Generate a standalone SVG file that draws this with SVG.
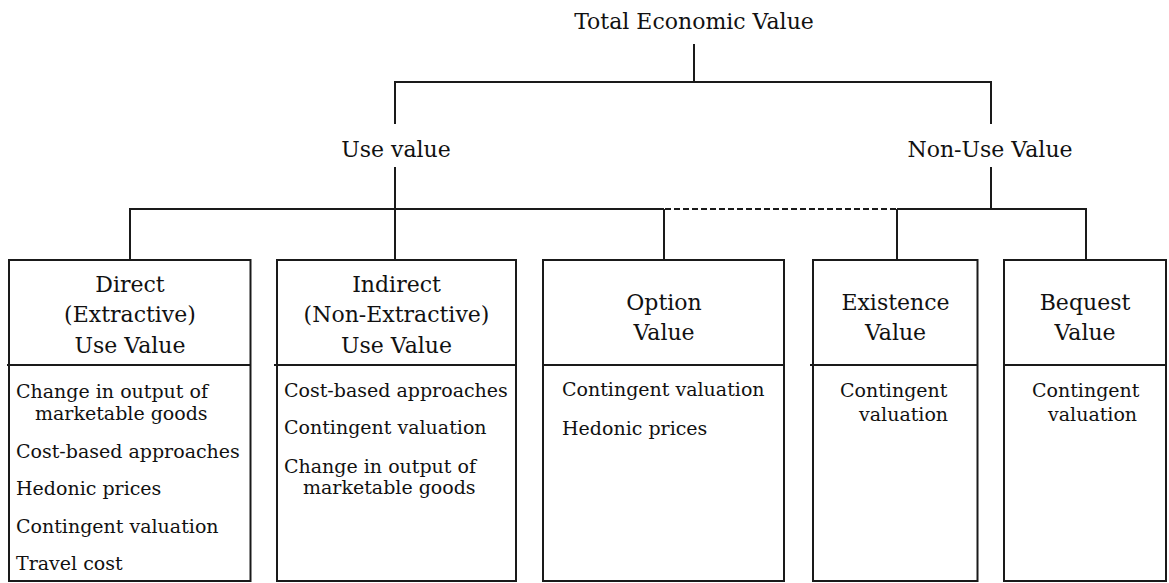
<svg xmlns="http://www.w3.org/2000/svg" width="1169" height="583" viewBox="0 0 1169 583">
<style>
.bg{fill:#ffffff}
.ln{stroke:#1a1a1a;stroke-width:2;fill:none}
.dash{stroke:#1a1a1a;stroke-width:2;fill:none;stroke-dasharray:6 3}
.box{stroke:#1a1a1a;stroke-width:2;fill:#ffffff}
.h{font-family:"DejaVu Serif","Liberation Serif",serif;font-size:22px;fill:#111111;text-anchor:middle}
.b{font-family:"DejaVu Serif","Liberation Serif",serif;font-size:19px;fill:#111111}
</style>
<rect class="bg" x="0" y="0" width="1169" height="583"/>
<g id="connectors">
<line class="ln" x1="694" y1="44" x2="694" y2="82"/>
<line class="ln" x1="394" y1="82" x2="992" y2="82"/>
<line class="ln" x1="395" y1="82" x2="395" y2="124"/>
<line class="ln" x1="991" y1="82" x2="991" y2="124"/>
<line class="ln" x1="395" y1="167" x2="395" y2="260"/>
<line class="ln" x1="991" y1="167" x2="991" y2="209"/>
<line class="ln" x1="129" y1="209" x2="664" y2="209"/>
<line class="dash" x1="665" y1="209" x2="897" y2="209"/>
<line class="ln" x1="897" y1="209" x2="1087" y2="209"/>
<line class="ln" x1="130" y1="209" x2="130" y2="260"/>
<line class="ln" x1="664" y1="209" x2="664" y2="260"/>
<line class="ln" x1="897" y1="209" x2="897" y2="260"/>
<line class="ln" x1="1086" y1="209" x2="1086" y2="260"/>
</g>
<g id="total">
<text class="h" x="694" y="29">Total Economic Value</text>
</g>
<g id="use-value">
<text class="h" x="396" y="157">Use value</text>
</g>
<g id="non-use-value">
<text class="h" x="990" y="157">Non-Use Value</text>
</g>
<g id="direct">
<rect class="box" x="9" y="260" width="241.5" height="321"/>
<line class="ln" x1="7" y1="365" x2="250.5" y2="365"/>
<text class="h" x="130" y="292">Direct</text>
<text class="h" x="130" y="322">(Extractive)</text>
<text class="h" x="130" y="353">Use Value</text>
<text class="b" x="16" y="398">Change in output of</text>
<text class="b" x="35" y="420">marketable goods</text>
<text class="b" x="16" y="458">Cost-based approaches</text>
<text class="b" x="16" y="495">Hedonic prices</text>
<text class="b" x="16" y="533">Contingent valuation</text>
<text class="b" x="16" y="570">Travel cost</text>
</g>
<g id="indirect">
<rect class="box" x="277" y="260" width="239" height="321"/>
<line class="ln" x1="274" y1="365" x2="516" y2="365"/>
<text class="h" x="396.5" y="292">Indirect</text>
<text class="h" x="396.5" y="322">(Non-Extractive)</text>
<text class="h" x="396.5" y="353">Use Value</text>
<text class="b" x="284" y="397">Cost-based approaches</text>
<text class="b" x="284" y="434">Contingent valuation</text>
<text class="b" x="284" y="473">Change in output of</text>
<text class="b" x="303" y="494">marketable goods</text>
</g>
<g id="option">
<rect class="box" x="543" y="260" width="241" height="321"/>
<line class="ln" x1="543" y1="365" x2="784" y2="365"/>
<text class="h" x="664" y="310">Option</text>
<text class="h" x="664" y="340">Value</text>
<text class="b" x="562" y="396">Contingent valuation</text>
<text class="b" x="562" y="435">Hedonic prices</text>
</g>
<g id="existence">
<rect class="box" x="813" y="260" width="164.5" height="321"/>
<line class="ln" x1="810" y1="365" x2="977.5" y2="365"/>
<text class="h" x="895.5" y="310">Existence</text>
<text class="h" x="895.5" y="340">Value</text>
<text class="b" x="840" y="397">Contingent</text>
<text class="b" x="859" y="421">valuation</text>
</g>
<g id="bequest">
<rect class="box" x="1004" y="260" width="162" height="321"/>
<line class="ln" x1="1004" y1="365" x2="1166" y2="365"/>
<text class="h" x="1085" y="310">Bequest</text>
<text class="h" x="1085" y="340">Value</text>
<text class="b" x="1032" y="397">Contingent</text>
<text class="b" x="1048" y="421">valuation</text>
</g>
</svg>
